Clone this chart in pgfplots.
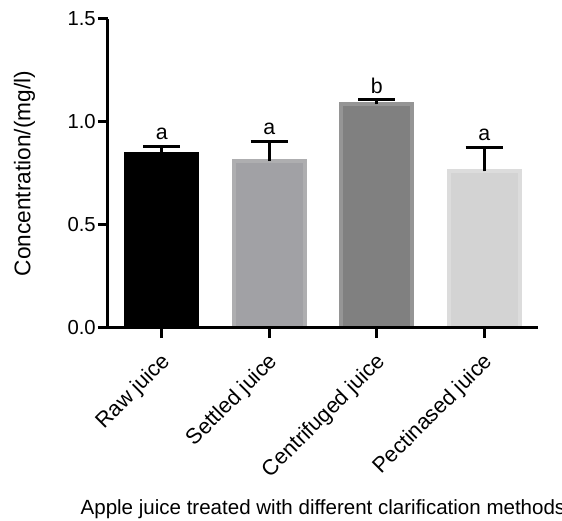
\documentclass[border=0pt]{standalone}
\usepackage{pgfplots}
\pgfplotsset{compat=1.18}
\usepackage{fontspec}
\setmainfont{Liberation Sans}

\definecolor{settled}{HTML}{A1A1A5}
\definecolor{settledB}{HTML}{AEAEB0}
\definecolor{centri}{HTML}{808080}
\definecolor{centriB}{HTML}{959595}
\definecolor{pectin}{HTML}{D3D3D3}
\definecolor{pectinB}{HTML}{DCDCDC}

\begin{document}
\fontsize{15.4pt}{18pt}\selectfont
\begin{tikzpicture}
  \begin{axis}[
    scale only axis,
    width=322.5pt,
    height=231.75pt,
    xmin=-0.5, xmax=3.5,
    ymin=0, ymax=1.5,
    axis x line=bottom,
    axis y line=left,
    axis line style={line width=2.25pt, -},
    axis on top,
    tick align=outside,
    major tick length=7.5pt,
    tick style={line width=2.25pt, black},
    xtick={0,1,2,3},
    xticklabels={Raw juice, Settled juice, Centrifuged juice, Pectinased juice},
    x tick label style={rotate=45, anchor=north east, inner sep=1pt,
      xshift=-7pt, yshift=-5pt, font=\fontsize{16.3pt}{19pt}\selectfont},
    ytick={0,0.5,1.0,1.5},
    yticklabels={0.0, 0.5, 1.0, 1.5},
    y tick label style={inner sep=1.5pt, font=\fontsize{15.2pt}{18pt}\selectfont},
    ylabel={Concentration/(mg/l)},
    ylabel style={at={(axis description cs:-0.194,0.5)}, anchor=center, font=\fontsize{17pt}{20pt}\selectfont},
    xlabel={Apple juice treated with different clarification methods},
    xlabel style={at={(axis description cs:0.5,-0.605)}, anchor=base, font=\fontsize{15.4pt}{18pt}\selectfont},
    error bars/y dir=plus,
    error bars/y explicit,
    error bars/error bar style={line width=2.25pt, black},
    error bars/error mark options={rotate=90, mark size=13.9pt, line width=2.25pt, black},
  ]

\addplot[ybar, bar width=0.66, fill=black, draw=black, line width=3pt] coordinates {
(0, 0.846) +- (0, 0.035)
};
\addplot[ybar, bar width=0.66, fill=settled, draw=settledB, line width=3pt] coordinates {
(1, 0.810) +- (0, 0.097)
};
\addplot[ybar, bar width=0.66, fill=centri, draw=centriB, line width=3pt] coordinates {
(2, 1.086) +- (0, 0.021)
};
\addplot[ybar, bar width=0.66, fill=pectin, draw=pectinB, line width=3pt] coordinates {
(3, 0.760) +- (0, 0.118)
};

% significance letters, placed above the error bar tops
\addplot[draw=none, mark=none, nodes near coords, point meta=explicit symbolic,
  nodes near coords style={anchor=base, yshift=5pt, font=\fontsize{16pt}{19pt}\selectfont}]
  table[meta=lab] {
x y lab
0 0.881 a
1 0.907 a
2 1.107 b
3 0.878 a
};

  \end{axis}
  \pgfresetboundingbox
  \path[use as bounding box] (-81pt,-144.75pt) rectangle (340.5pt,246pt);
\end{tikzpicture}
\end{document}
